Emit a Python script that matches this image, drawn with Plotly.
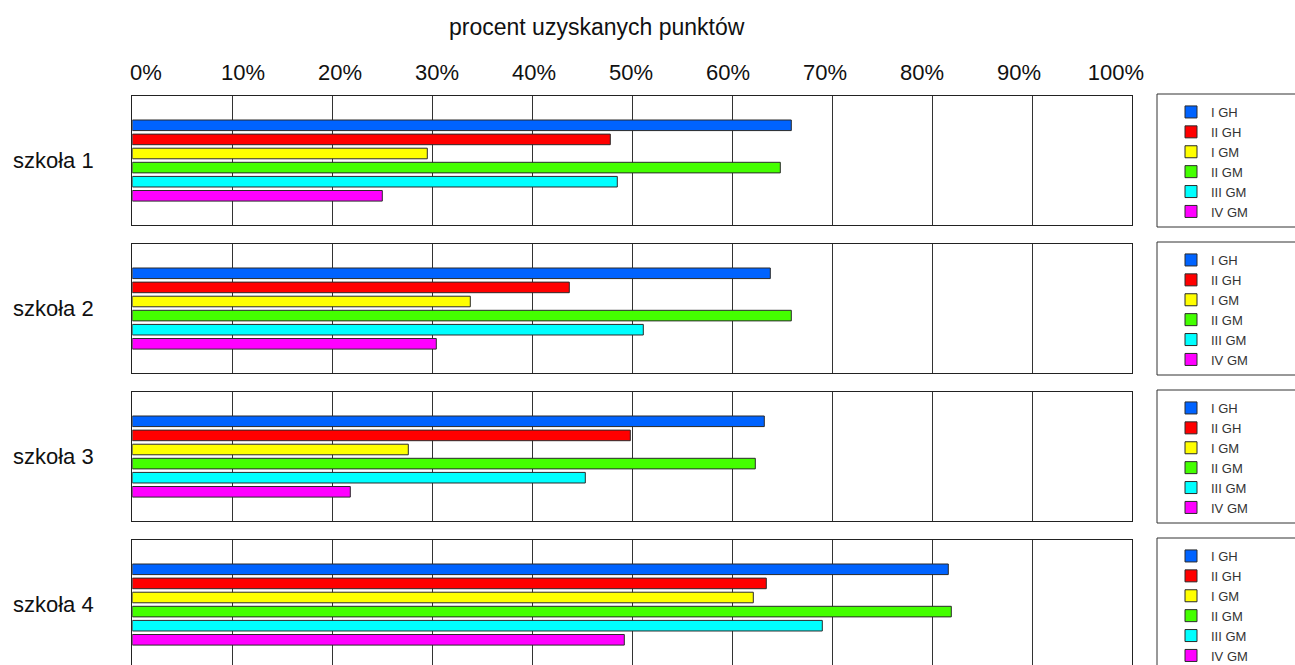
import plotly.graph_objects as go

# ---- data ----
schools = ["szkoła 1", "szkoła 2", "szkoła 3", "szkoła 4"]
series_names = ["I GH", "II GH", "I GM", "II GM", "III GM", "IV GM"]
i_gh = [65.9, 63.8, 63.2, 81.6]
ii_gh = [47.8, 43.7, 49.8, 63.4]
i_gm = [29.5, 33.8, 27.6, 62.1]
ii_gm = [64.8, 65.9, 62.3, 81.9]
iii_gm = [48.5, 51.1, 45.3, 69.0]
iv_gm = [25.0, 30.4, 21.8, 49.2]
tick_values = [0, 10, 20, 30, 40, 50, 60, 70, 80, 90, 100]
tick_labels = ["0%", "10%", "20%", "30%", "40%", "50%", "60%", "70%", "80%", "90%", "100%"]
title_text = "procent uzyskanych punktów"

series_values = [i_gh, ii_gh, i_gm, ii_gm, iii_gm, iv_gm]
colors = ["#0063FF", "#FF0000", "#FFFF00", "#44FF00", "#00FFFF", "#FF00FF"]

W, H = 1295, 665
FONT = "Liberation Sans, Arial, sans-serif"


def px_x(p):
    return p / W


def px_y(p):
    return 1 - p / H


panel_tops = [96, 244, 392, 540]
panel_h = 129
x_left, x_right = 132.3, 1132.3
label_left, label_right = 146.0, 1116.0
unit_px = 14.1
top_offset = 29.3

fig = go.Figure()
layout = dict(
    width=W, height=H,
    margin=dict(l=0, r=0, t=0, b=0, autoexpand=False),
    paper_bgcolor="white", plot_bgcolor="rgba(0,0,0,0)",
    showlegend=True,
    barmode="overlay",
    font=dict(family=FONT, color="#111"),
)
shapes = []
annotations = []

for p, school in enumerate(schools):
    top = panel_tops[p]
    bottom = min(top + panel_h, H)
    last = p == len(schools) - 1
    ax = "" if p == 0 else str(p + 1)
    leg = "legend" if p == 0 else "legend" + str(p + 1)
    for s, name in enumerate(series_names):
        fig.add_trace(go.Bar(
            x=[series_values[s][p]], y=[s], orientation="h",
            name=name, width=0.75,
            marker=dict(color=colors[s], line=dict(color="#2a2a2a", width=1)),
            xaxis="x" + ax, yaxis="y" + ax, legend=leg,
            hovertemplate=school + " " + name + ": %{x:.1f}%<extra></extra>",
        ))
    y0 = -top_offset / unit_px
    y1 = y0 + (bottom - top) / unit_px
    layout["xaxis" + ax] = dict(
        domain=[px_x(x_left), px_x(x_right)], range=[0, 100],
        anchor="y" + ax, tickmode="array", tickvals=tick_values,
        showticklabels=False, side="top", ticks="",
        showgrid=True, gridcolor="#333", gridwidth=1,
        showline=True, mirror=not last, linecolor="#222", linewidth=1,
        zeroline=False, fixedrange=True,
    )
    layout["yaxis" + ax] = dict(
        domain=[px_y(bottom), px_y(top)], range=[y1, y0],
        anchor="x" + ax, showticklabels=False, showgrid=False,
        showline=True, mirror=True, linecolor="#222", linewidth=1,
        zeroline=False, fixedrange=True,
    )
    layout[leg] = dict(
        x=px_x(1171), xanchor="left", y=px_y(top + 1), yanchor="top",
        bgcolor="rgba(0,0,0,0)", borderwidth=0,
        font=dict(size=13, color="#333", family=FONT),
        tracegroupgap=0,
    )
    shapes.append(dict(
        type="rect", xref="paper", yref="paper",
        x0=px_x(1157), x1=px_x(1320), y0=px_y(min(top + panel_h + 2, 700)), y1=px_y(top - 2),
        line=dict(color="#333", width=1), fillcolor="rgba(0,0,0,0)", layer="below",
    ))
    annotations.append(dict(
        text=school, xref="paper", yref="paper",
        x=px_x(53.5), y=px_y(top + panel_h / 2), xanchor="center", yanchor="middle",
        showarrow=False, font=dict(size=22, color="#111", family=FONT),
    ))

# percent scale labels above the first panel (placed slightly inside the grid, as in the original)
layout["yaxis5"] = dict(
    domain=[px_y(94), px_y(92)], range=[0, 1], anchor="x5",
    visible=False, fixedrange=True,
)
layout["xaxis5"] = dict(
    domain=[px_x(label_left), px_x(label_right)], range=[0, 100],
    anchor="y5", side="top", tickmode="array",
    tickvals=tick_values, ticktext=tick_labels,
    tickfont=dict(size=22, color="#111", family=FONT),
    ticks="", ticklabelstandoff=7,
    showgrid=False, showline=False, zeroline=False, fixedrange=True,
)
fig.add_trace(go.Scatter(x=[], y=[], xaxis="x5", yaxis="y5", showlegend=False, hoverinfo="skip"))

annotations.append(dict(
    text=title_text, xref="paper", yref="paper",
    x=px_x(597), y=px_y(27), xanchor="center", yanchor="middle",
    showarrow=False, font=dict(size=23, color="#111", family=FONT),
))

layout["shapes"] = shapes
layout["annotations"] = annotations
fig.update_layout(**layout)

fig.write_html(
    "out.html",
    config={"displayModeBar": False},
    post_script="document.body.style.margin='0';document.body.style.overflow='hidden';",
)
